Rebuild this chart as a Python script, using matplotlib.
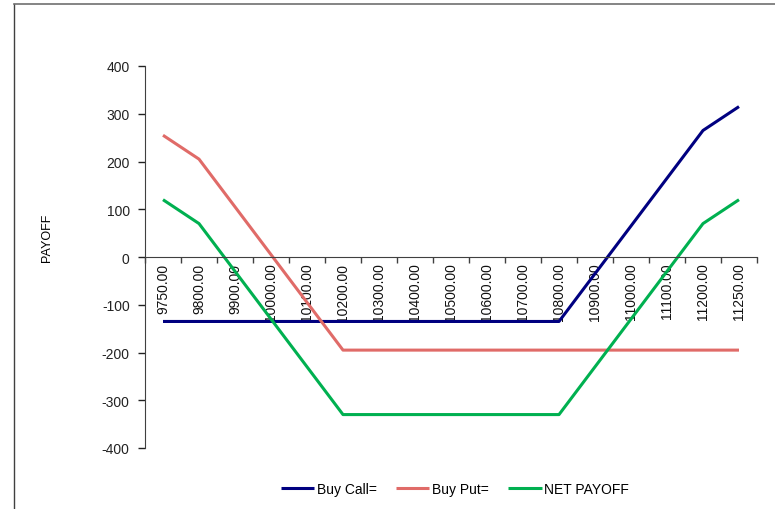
import matplotlib
matplotlib.use("Agg")
import matplotlib.pyplot as plt
from matplotlib.lines import Line2D
import numpy as np

plt.rcParams['font.family'] = ['Liberation Sans', 'DejaVu Sans']
plt.rcParams['axes.unicode_minus'] = False

strikes = ['9750.00', '9800.00', '9900.00', '10000.00', '10100.00', '10200.00',
           '10300.00', '10400.00', '10500.00', '10600.00', '10700.00', '10800.00',
           '10900.00', '11000.00', '11100.00', '11200.00', '11250.00']
buy_call = [-135, -135, -135, -135, -135, -135, -135, -135, -135, -135, -135, -135,
            -35, 65, 165, 265, 315]
buy_put = [255, 205, 105, 5, -95, -195, -195, -195, -195, -195, -195, -195,
           -195, -195, -195, -195, -195]
net_payoff = [120, 70, -30, -130, -230, -330, -330, -330, -330, -330, -330, -330,
              -230, -130, -30, 70, 120]

fig = plt.figure(figsize=(7.75, 5.10), dpi=100)
ax = fig.add_axes([145 / 775, 1 - 449 / 510, 612 / 775, 382 / 510])

x = np.arange(len(strikes))
ax.plot(x, buy_call, color='#000080', lw=2.2, label='Buy Call=', solid_capstyle='butt')
ax.plot(x, buy_put, color='#E06B68', lw=2.2, label='Buy Put=', solid_capstyle='butt')
ax.plot(x, net_payoff, color='#00B050', lw=2.2, label='NET PAYOFF', solid_capstyle='butt')

ax.set_xlim(-0.5, len(strikes) - 0.5)
ax.set_ylim(-400, 400)
ax.set_yticks(np.arange(-400, 401, 100))
ax.tick_params(axis='y', direction='out', length=5, width=1, labelsize=10, pad=6,
               colors='#222222')

# category axis on the zero line
ax.spines['bottom'].set_position(('data', 0))
ax.spines['top'].set_visible(False)
ax.spines['right'].set_visible(False)
ax.spines['left'].set_color('#404040')
ax.spines['bottom'].set_color('#404040')
ax.set_xticks(np.arange(-0.5, len(strikes), 1.0))
ax.set_xticklabels([])
ax.set_xticks(x, minor=True)
ax.set_xticklabels(strikes, minor=True, rotation=90, fontsize=10)
ax.tick_params(axis='x', which='major', direction='out', length=4, width=1, colors='#404040')
ax.tick_params(axis='x', which='minor', length=0, pad=4, labelcolor='#111111')

fig.text(47 / 775, 1 - 238 / 510, 'PAYOFF', rotation=90, fontsize=9,
         ha='center', va='center')

fig.legend(loc='center', bbox_to_anchor=(455 / 775, 1 - 490 / 510), ncol=3,
           frameon=False, fontsize=10, handlelength=2.4, handletextpad=0.2,
           columnspacing=1.4)

# chart area border (top and left edges visible)
fig.add_artist(Line2D([14 / 775, 14 / 775], [0, 1 - 5 / 510], color='#404040', lw=1))
fig.add_artist(Line2D([14 / 775, 1], [1 - 5 / 510, 1 - 5 / 510], color='#707070', lw=1.2))

fig.savefig('out.png', dpi=100)
